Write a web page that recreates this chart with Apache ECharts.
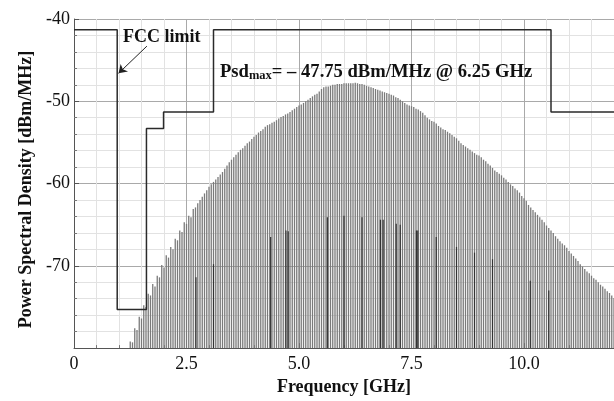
<!DOCTYPE html>
<html>
<head>
<meta charset="utf-8">
<script src="https://cdn.jsdelivr.net/npm/echarts@6/dist/echarts.min.js"></script>
<style>
  html, body { margin: 0; padding: 0; background: #fff; }
  #psdChart { width: 614px; height: 401px; }
</style>
</head>
<body>
<div id="psdChart"></div>
<script>
// spectral lines: one every 50 MHz starting at 1.25 GHz (dBm/MHz)
const lineStart = 1.25;
const lineStep = 0.05;
const psdLines = [
  // 1.25 - 1.95
  -79.2, -79.3, -77.6, -77.8, -76.2, -76.4, -74.8, -75.0, -73.4, -73.6, -72.2, -72.5, -71.2, -71.4, -69.9,
  // 2.00 - 2.95
  -70.2, -68.7, -69.0, -67.7, -68.0, -66.7, -66.9, -65.7, -65.9, -64.7, -64.9, -63.9, -64.1, -63.1, -62.9, -62.4, -62.0, -61.6, -61.2, -60.8,
  // 3.00 - 3.95
  -60.4, -60.1, -59.8, -59.5, -59.2, -58.9, -58.6, -58.2, -57.8, -57.4, -57.1, -56.8, -56.5, -56.2, -55.9, -55.7, -55.4, -55.1, -54.9, -54.6,
  // 4.00 - 4.95
  -54.3, -54.1, -53.8, -53.6, -53.4, -53.1, -52.9, -52.8, -52.6, -52.5, -52.3, -52.1, -51.9, -51.8, -51.6, -51.5, -51.3, -51.1, -50.9, -50.7,
  // 5.00 - 5.95
  -50.5, -50.4, -50.2, -50.0, -49.8, -49.6, -49.4, -49.2, -49.1, -48.8, -48.5, -48.3, -48.2, -48.2, -48.1, -48.0, -48.0, -47.9, -47.9, -47.9,
  // 6.00 - 6.95
  -47.8, -47.8, -47.8, -47.8, -47.8, -47.75, -47.8, -47.9, -47.9, -48.0, -48.1, -48.2, -48.3, -48.4, -48.5, -48.6, -48.7, -48.8, -48.9, -49.0,
  // 7.00 - 7.95
  -49.1, -49.2, -49.3, -49.5, -49.6, -49.8, -50.0, -50.2, -50.4, -50.5, -50.6, -50.7, -50.9, -51.0, -51.2, -51.4, -51.7, -52.0, -52.2, -52.4,
  // 8.00 - 8.95
  -52.5, -52.7, -53.0, -53.2, -53.4, -53.5, -53.7, -53.9, -54.1, -54.3, -54.5, -54.8, -55.1, -55.3, -55.5, -55.7, -55.9, -56.1, -56.3, -56.5,
  // 9.00 - 9.95
  -56.6, -56.8, -57.1, -57.3, -57.6, -57.8, -58.1, -58.4, -58.6, -58.8, -59.0, -59.3, -59.5, -59.8, -60.1, -60.3, -60.6, -60.8, -61.1, -61.5,
  // 10.00 - 10.95
  -61.8, -62.1, -62.6, -62.9, -63.2, -63.5, -63.8, -64.1, -64.4, -64.7, -65.1, -65.4, -65.7, -66.0, -66.4, -66.7, -67.0, -67.3, -67.5, -67.8,
  // 11.00 - 11.95
  -68.2, -68.5, -68.8, -69.1, -69.4, -69.8, -70.1, -70.4, -70.7, -70.9, -71.2, -71.5, -71.7, -72.0, -72.3, -72.5, -72.8, -73.1, -73.3, -73.6,
  // 12.00
  -73.9
];

// darker tones
const toneFreq = [2.71, 3.10, 4.37, 4.71, 4.76, 5.63, 6.00, 6.40, 6.81, 6.87, 7.16, 7.25, 7.61, 7.64, 8.05, 8.50, 8.90, 9.30, 10.14, 10.55];
const toneLevel = [-71.4, -69.8, -66.5, -65.7, -65.8, -64.1, -63.9, -64.1, -64.4, -64.4, -64.9, -65.0, -65.7, -65.7, -66.5, -67.7, -68.4, -69.2, -71.8, -73.0];

// FCC indoor mask
const fccFreq = [0, 0.96, 0.96, 1.61, 1.61, 1.99, 1.99, 3.1, 3.1, 10.6, 10.6, 12];
const fccLevel = [-41.3, -41.3, -75.3, -75.3, -53.3, -53.3, -51.3, -51.3, -41.3, -41.3, -51.3, -51.3];

const yMin = -80, yMax = -40;
const xMin = 0, xMax = 12;
const serif = 'Liberation Serif';

let lineData = psdLines.map((v, i) => [+(lineStart + i * lineStep).toFixed(2), v]);
let toneData = toneFreq.map((f, i) => [f, toneLevel[i]]);
let fccData = fccFreq.map((f, i) => [f, fccLevel[i]]);

function stem(color, width) {
  return function (params, api) {
    let top = api.coord([api.value(0), api.value(1)]);
    let base = api.coord([api.value(0), yMin]);
    return {
      type: 'line',
      shape: { x1: top[0], y1: top[1], x2: base[0], y2: base[1] },
      style: { stroke: color, lineWidth: width }
    };
  };
}

let myChart = echarts.init(document.getElementById('psdChart'));
let option = {
  animation: false,
  backgroundColor: '#fff',
  grid: { left: 74, right: 0, top: 19, bottom: 43 },
  xAxis: [
    {
      // minor grid every 0.5 GHz
      type: 'value', min: xMin, max: xMax, interval: 0.5, position: 'bottom',
      axisLine: { show: false },
      axisLabel: { show: false },
      axisTick: { show: true, inside: true, length: 3, lineStyle: { color: '#777' } },
      splitLine: { show: true, lineStyle: { color: '#e2e2e2', width: 1 } }
    },
    {
      type: 'value', min: xMin, max: xMax, interval: 2.5, position: 'bottom',
      name: 'Frequency [GHz]', nameLocation: 'middle', nameGap: 19,
      nameTextStyle: { fontFamily: serif, fontWeight: 'bold', fontSize: 18, color: '#111', verticalAlign: 'top' },
      axisLine: { show: true, lineStyle: { color: '#555', width: 1 } },
      axisTick: { show: true, inside: true, length: 5, lineStyle: { color: '#555' } },
      axisLabel: {
        showMaxLabel: false, margin: 7,
        fontFamily: serif, fontSize: 18, color: '#111',
        formatter: v => (v === 0 ? '0' : v.toFixed(1))
      },
      splitLine: { show: true, lineStyle: { color: '#a9a9a9', width: 1 } }
    }
  ],
  yAxis: {
    type: 'value', min: yMin, max: yMax, interval: 10,
    name: 'Power Spectral Density [dBm/MHz]', nameLocation: 'middle', nameGap: 38,
    nameTextStyle: { fontFamily: serif, fontWeight: 'bold', fontSize: 18, color: '#111', padding: [0, 12, 0, 0] },
    axisLine: { show: true, lineStyle: { color: '#555', width: 1 } },
    axisTick: { show: true, inside: true, length: 5, lineStyle: { color: '#555' } },
    minorTick: { show: true, splitNumber: 5, length: 3, lineStyle: { color: '#777' } },
    axisLabel: {
      showMinLabel: false, margin: 4,
      fontFamily: serif, fontSize: 18, color: '#111'
    },
    splitLine: { show: true, lineStyle: { color: '#a9a9a9', width: 1 } },
    minorSplitLine: { show: true, lineStyle: { color: '#e2e2e2', width: 1 } }
  },
  series: [
    {
      name: 'PSD', type: 'custom', xAxisIndex: 1, clip: true,
      renderItem: stem('#7a7a7a', 1.3),
      encode: { x: 0, y: 1 },
      data: lineData, z: 2
    },
    {
      name: 'tones', type: 'custom', xAxisIndex: 1, clip: true,
      renderItem: stem('#333', 1.2),
      encode: { x: 0, y: 1 },
      data: toneData, z: 3
    },
    {
      name: 'FCC limit', type: 'line', xAxisIndex: 1,
      data: fccData, symbol: 'none', z: 4,
      lineStyle: { color: '#2a2a2a', width: 1.5 },
      markLine: {
        silent: true, symbol: ['none', 'arrow'], symbolSize: 8,
        label: { show: false },
        lineStyle: { color: '#222', width: 1, type: 'solid' },
        data: [[{ coord: [1.62, -43.3] }, { coord: [0.99, -46.6] }]]
      }
    }
  ],
  graphic: [
    {
      type: 'text', left: 123, top: 28, z: 10,
      style: { text: 'FCC limit', font: 'bold 18px "Liberation Serif"', fill: '#111' }
    },
    {
      type: 'text', left: 220, top: 63, z: 10,
      style: {
        text: '{a|Psd}{b|max}{a|= \u2013 47.75 dBm/MHz @ 6.25 GHz}',
        rich: {
          a: { fontFamily: serif, fontWeight: 'bold', fontSize: 18.6, lineHeight: 22, fill: '#111', verticalAlign: 'bottom' },
          b: { fontFamily: serif, fontWeight: 'bold', fontSize: 12.5, lineHeight: 22, fill: '#111', verticalAlign: 'bottom', padding: [6, 0, 0, 0] }
        }
      }
    }
  ]
};
myChart.setOption(option);
</script>
</body>
</html>
